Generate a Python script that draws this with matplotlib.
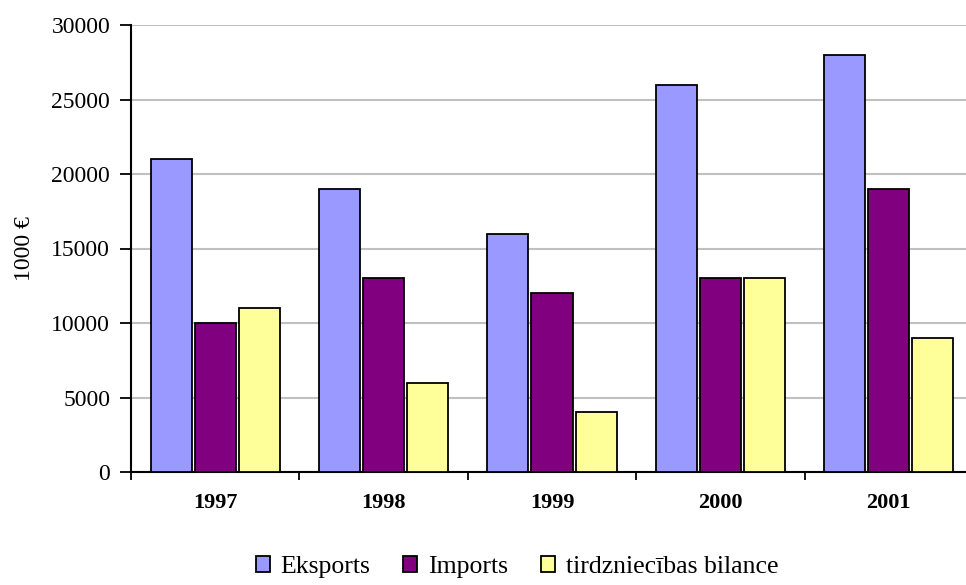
import matplotlib.pyplot as plt
import numpy as np

years = ["1997", "1998", "1999", "2000", "2001"]
eksports = [21000, 19000, 16000, 26000, 28000]
imports = [10000, 13000, 12000, 13000, 19000]
bilance = [11000, 6000, 4000, 13000, 9000]

plt.rcParams["font.family"] = ["Liberation Serif", "DejaVu Serif"]

fig = plt.figure(figsize=(9.66, 5.85), dpi=100)
ax = fig.add_axes([131 / 966, 1 - 472 / 585, 842 / 966, 447 / 585])

x = np.arange(len(years))
w = 0.244
step = 0.262
series = [
    (eksports, "#9999ff", "Eksports"),
    (imports, "#800080", "Imports"),
    (bilance, "#ffff99", "tirdzniecības bilance"),
]
for i, (vals, color, label) in enumerate(series):
    ax.bar(x + (i - 1) * step, vals, w, color=color, edgecolor="black",
           linewidth=1.3, label=label, zorder=3)

ax.set_xlim(-0.5, len(years) - 0.5)
ax.set_ylim(0, 30000)
ax.set_yticks(range(0, 30001, 5000))
ax.yaxis.grid(True, color="#c0c0c0", linewidth=1.5, zorder=0)
ax.set_axisbelow(True)

ax.set_xticks(np.arange(-0.5, len(years) - 0.4, 1.0))
ax.set_xticklabels([])
ax.set_xticks(x, minor=True)
ax.set_xticklabels(years, minor=True, fontweight="bold", fontsize=16)
ax.tick_params(axis="x", which="major", direction="out", length=6, width=1.3)
ax.tick_params(axis="x", which="minor", length=0, pad=15)
ax.tick_params(axis="y", direction="out", length=8, width=1.3, labelsize=17, pad=7)

for side in ["top", "right"]:
    ax.spines[side].set_visible(False)
for side in ["left", "bottom"]:
    ax.spines[side].set_linewidth(1.5)

ax.set_ylabel("1000 €", fontsize=17, labelpad=12)

fig.legend(loc="lower center", bbox_to_anchor=(0.535, -0.028), ncol=3, frameon=False,
           fontsize=18.5, handlelength=0.55, handleheight=0.55, handletextpad=0.4,
           columnspacing=1.3)

fig.savefig("out.png", dpi=100)
